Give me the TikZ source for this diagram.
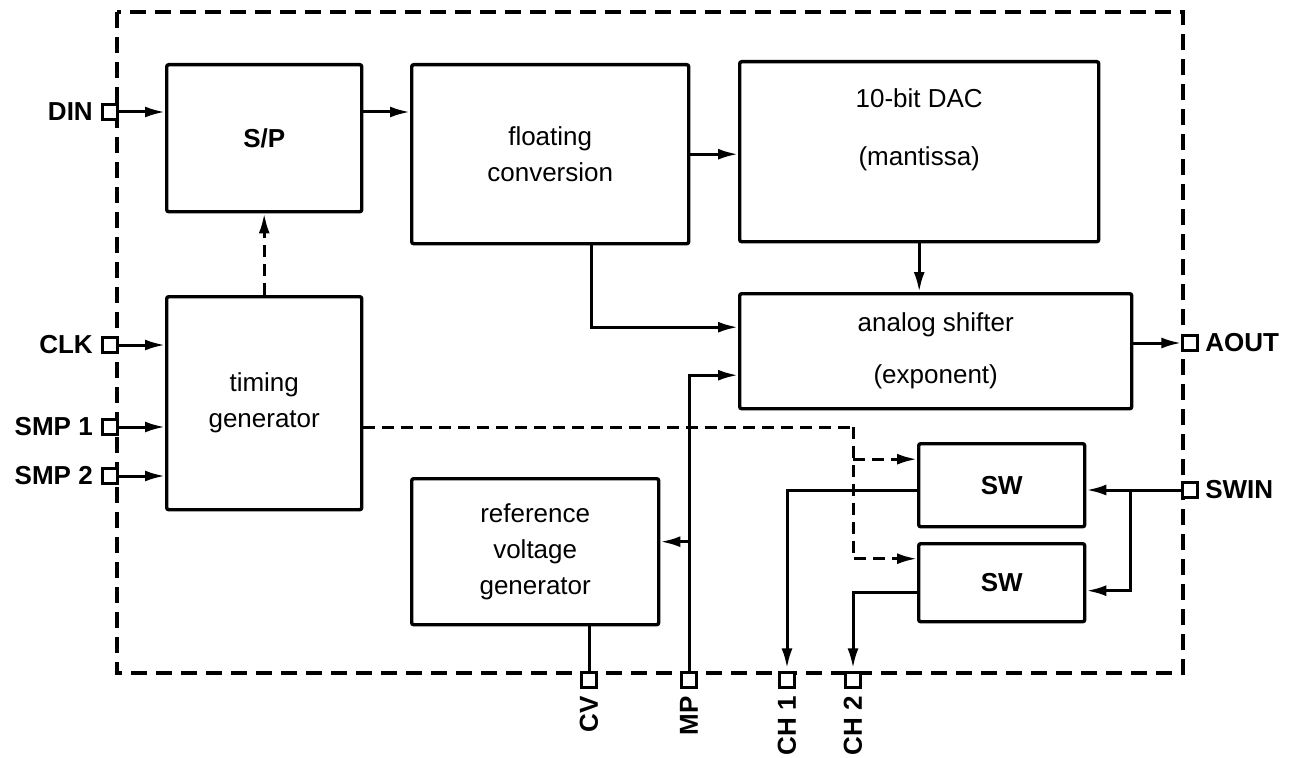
\documentclass[tikz,border=0pt]{standalone}
\usepackage{fontspec}
\setmainfont{Liberation Sans}
\usetikzlibrary{arrows.meta,positioning,calc}

\begin{document}
\begin{tikzpicture}[
  x=1pt,y=-1pt,
  font=\fontsize{26}{36}\selectfont,>={Latex[length=20pt,width=11pt]},
  blk/.style={draw,line width=3.4pt,rounded corners=2pt,anchor=north west,align=center,inner sep=0pt},
  padsq/.style={draw,fill=white,line width=2.4pt,minimum size=15pt,inner sep=0pt},
  lbl/.style={font=\fontsize{26}{30}\selectfont\bfseries},
  wire/.style={line width=3pt},
  ctl/.style={line width=3pt,dash pattern=on 12pt off 7pt}
]
\useasboundingbox (0,0) rectangle (1297,757);
% chip outline
\draw[line width=3.4pt,dash pattern=on 16pt off 9pt] (117,12) rectangle (1183,673);

% blocks
\node[blk,minimum width=195pt,minimum height=147pt] (sp) at (165,63) {\bfseries S/P};
\node[blk,minimum width=277pt,minimum height=179pt] (fc) at (410,63) {floating\\conversion};
\node[blk,minimum width=359pt,minimum height=180pt,text depth=50pt] (dac) at (738,60) {10-bit DAC\\[22pt](mantissa)};
\node[blk,minimum width=392pt,minimum height=115pt] (ash) at (738,292) {analog shifter\\[16pt](exponent)};
\node[blk,minimum width=195pt,minimum height=213pt] (tg) at (165,295) {timing\\generator};
\node[blk,minimum width=247pt,minimum height=146pt] (rvg) at (410,477) {reference\\voltage\\generator};
\node[blk,minimum width=166pt,minimum height=83pt] (sw1) at (917,442) {\bfseries SW};
\node[blk,minimum width=166pt,minimum height=78pt] (sw2) at (917,542) {\bfseries SW};

% pins
\node[padsq] (din) at (110,112) {};
\node[padsq] (clk) at (110,345) {};
\node[padsq] (smp1) at (110,427) {};
\node[padsq] (smp2) at (110,476) {};
\node[padsq] (aout) at (1190,343) {};
\node[padsq] (swin) at (1190,490) {};
\node[padsq] (cv) at (589,680) {};
\node[padsq] (mp) at (689,680) {};
\node[padsq] (ch1) at (787,680) {};
\node[padsq] (ch2) at (853,680) {};

\node[lbl,left=5pt of din] {DIN};
\node[lbl,left=5pt of clk] {CLK};
\node[lbl,left=5pt of smp1] {SMP 1};
\node[lbl,left=5pt of smp2] {SMP 2};
\node[lbl,right=3pt of aout] {AOUT};
\node[lbl,right=3pt of swin] {SWIN};
\node[lbl,rotate=90,anchor=east] at ([yshift=-4pt]cv.south) {CV};
\node[lbl,rotate=90,anchor=east] at ([yshift=-4pt]mp.south) {MP};
\node[lbl,rotate=90,anchor=east] at ([yshift=-4pt]ch1.south) {CH 1};
\node[lbl,rotate=90,anchor=east] at ([yshift=-4pt]ch2.south) {CH 2};

% data path
\draw[wire,->] (din.east) -- (din.east -| sp.west);
\draw[wire,->] (clk.east) -- (clk.east -| tg.west);
\draw[wire,->] (smp1.east) -- (smp1.east -| tg.west);
\draw[wire,->] (smp2.east) -- (smp2.east -| tg.west);
\draw[wire,->] (sp.east |- din) -- (fc.west |- din);
\draw[wire,->] (fc.east) -- (fc.east -| dac.west);
\draw[wire,->] (dac.south) -- (dac.south |- ash.north);
\draw[wire,->] ([xshift=41pt]fc.south) |- ([yshift=24pt]ash.west);
\draw[wire,->] (mp.north) |- ([yshift=-24pt]ash.west);
\coordinate (mpj) at ([yshift=10pt]rvg.east);
\draw[wire,->] (mpj -| mp) -- (mpj);
\draw[wire] (cv.north |- rvg.south) -- (cv.north);
\draw[wire,->] (ash.east |- aout) -- (aout.west);

% control lines
\draw[ctl,->] (tg.north) -- (sp.south);
\coordinate (sel) at (853,427);
\coordinate (s1in) at ([yshift=26pt]sw1.west);
\coordinate (s2in) at ([yshift=24pt]sw2.west);
\draw[ctl] (tg.east |- sel) -- (sel);
\draw[ctl,->] (sel) |- (s2in);
\draw[ctl,->] (sel |- s1in) -- (s1in);

% switch outputs
\draw[wire,->] (swin.west) -- (swin.west -| sw1.east);
\coordinate (swj) at (1130,490);
\draw[wire,->] (swj) |- ([yshift=-8pt]sw2.east);
\draw[wire,->] (sw1.west |- swin) -| ([yshift=3pt]ch1.north);
\draw[wire,->] ([yshift=-10pt]sw2.west) -| ([yshift=3pt]ch2.north);
\end{tikzpicture}
\end{document}
